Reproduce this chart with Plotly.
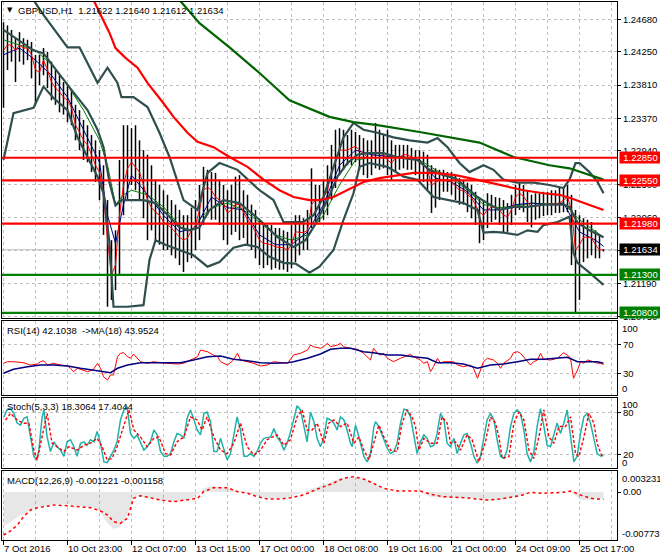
import plotly.graph_objects as go

FONT = "Liberation Sans, Arial, sans-serif"

# ---------------- DATA ----------------
# H1 bars, sampled every 2 hours; x = bar number since 7 Oct 2016
bar_index = list(range(0, 301, 2))
bar_high = [1.2464,1.2460,1.2454,1.2443,1.2451,1.2443,1.2441,1.2438,1.2421,1.2421,
            1.2430,1.2425,1.2412,1.2401,1.2394,1.2385,1.2381,1.2375,1.2355,1.2348,
            1.2335,1.2328,1.2315,1.2308,1.2295,1.2275,1.2229,1.2176,1.2189,1.2282,
            1.2328,1.2328,1.2324,1.2328,1.2308,1.2295,1.2289,1.2275,1.2256,1.2249,
            1.2242,1.2236,1.2229,1.2223,1.2216,1.2209,1.2209,1.2219,1.2229,1.2249,
            1.2273,1.2269,1.2266,1.2265,1.2256,1.2249,1.2242,1.2249,1.2260,1.2262,
            1.2242,1.2236,1.2223,1.2216,1.2203,1.2196,1.2196,1.2196,1.2192,1.2192,
            1.2189,1.2187,1.2196,1.2209,1.2209,1.2205,1.2216,1.2271,1.2249,1.2249,
            1.2256,1.2275,1.2302,1.2322,1.2324,1.2322,1.2315,1.2322,1.2319,1.2315,
            1.2311,1.2308,1.2308,1.2331,1.2322,1.2315,1.2322,1.2308,1.2302,1.2302,
            1.2302,1.2302,1.2298,1.2295,1.2295,1.2293,1.2289,1.2275,1.2271,1.2269,
            1.2269,1.2266,1.2266,1.2262,1.2258,1.2256,1.2252,1.2249,1.2240,1.2232,
            1.2229,1.2238,1.2236,1.2233,1.2232,1.2229,1.2225,1.2236,1.2249,1.2252,
            1.2249,1.2242,1.2236,1.2238,1.2238,1.2240,1.2240,1.2242,1.2242,1.2245,
            1.2246,1.2249,1.2236,1.2216,1.2209,1.2205,1.2203,1.2200,1.2189,1.2183,
            1.2164]
bar_low = [1.2351,1.2401,1.2412,1.2385,1.2412,1.2408,1.2414,1.2390,1.2355,1.2381,
           1.2394,1.2377,1.2361,1.2355,1.2345,1.2342,1.2332,1.2328,1.2308,1.2295,
           1.2282,1.2279,1.2266,1.2253,1.2229,1.2183,1.2088,1.2097,1.2110,1.2130,
           1.2209,1.2229,1.2249,1.2242,1.2229,1.2205,1.2176,1.2189,1.2176,1.2170,
           1.2163,1.2163,1.2156,1.2152,1.2143,1.2134,1.2147,1.2152,1.2163,1.2176,
           1.2196,1.2209,1.2203,1.2203,1.2196,1.2176,1.2170,1.2183,1.2187,1.2176,
           1.2179,1.2170,1.2163,1.2152,1.2143,1.2139,1.2143,1.2137,1.2139,1.2137,
           1.2137,1.2134,1.2139,1.2147,1.2156,1.2163,1.2163,1.2192,1.2196,1.2200,
           1.2203,1.2209,1.2229,1.2245,1.2262,1.2269,1.2275,1.2275,1.2279,1.2269,
           1.2262,1.2258,1.2262,1.2271,1.2269,1.2271,1.2262,1.2256,1.2266,1.2269,
           1.2271,1.2269,1.2269,1.2262,1.2256,1.2253,1.2242,1.2212,1.2219,1.2229,
           1.2240,1.2240,1.2236,1.2229,1.2223,1.2223,1.2213,1.2205,1.2196,1.2172,
           1.2176,1.2192,1.2200,1.2203,1.2196,1.2186,1.2187,1.2196,1.2209,1.2216,
           1.2213,1.2200,1.2193,1.2203,1.2205,1.2208,1.2209,1.2209,1.2212,1.2212,
           1.2213,1.2213,1.2143,1.2081,1.2097,1.2147,1.2152,1.2156,1.2152,1.2152,
           1.2161]
bar_close = [1.2427,1.2434,1.2434,1.2427,1.2434,1.2430,1.2430,1.2421,1.2401,1.2398,
             1.2414,1.2401,1.2385,1.2377,1.2372,1.2365,1.2361,1.2351,1.2328,1.2319,
             1.2308,1.2302,1.2289,1.2275,1.2266,1.2236,1.2176,1.2130,1.2143,1.2209,
             1.2249,1.2271,1.2279,1.2273,1.2266,1.2249,1.2229,1.2219,1.2213,1.2209,
             1.2200,1.2196,1.2192,1.2186,1.2180,1.2176,1.2179,1.2189,1.2196,1.2216,
             1.2242,1.2246,1.2242,1.2233,1.2229,1.2223,1.2212,1.2216,1.2223,1.2223,
             1.2213,1.2203,1.2196,1.2187,1.2176,1.2172,1.2171,1.2170,1.2167,1.2166,
             1.2166,1.2163,1.2170,1.2187,1.2186,1.2186,1.2189,1.2223,1.2229,1.2229,
             1.2232,1.2242,1.2266,1.2282,1.2295,1.2295,1.2295,1.2298,1.2300,1.2295,
             1.2291,1.2285,1.2285,1.2293,1.2291,1.2289,1.2282,1.2278,1.2285,1.2286,
             1.2289,1.2289,1.2286,1.2282,1.2279,1.2275,1.2269,1.2249,1.2252,1.2256,
             1.2256,1.2256,1.2253,1.2248,1.2242,1.2242,1.2236,1.2232,1.2223,1.2213,
             1.2209,1.2216,1.2220,1.2219,1.2216,1.2209,1.2207,1.2216,1.2233,1.2238,
             1.2234,1.2226,1.2220,1.2221,1.2223,1.2223,1.2223,1.2223,1.2224,1.2225,
             1.2229,1.2233,1.2216,1.2163,1.2170,1.2180,1.2180,1.2179,1.2170,1.2163,
             1.21634]

# fast moving averages (thin blue / thin green)
fast_ma_x = [0,8,16,24,32,40,48,52,56,60,64,72,80,88,96,104,112,120,128,136,144,152,
             160,168,176,184,192,200,208,216,224,232,240,248,256,264,272,280,288,296,300]
blue_ma = [1.2421,1.2430,1.2414,1.2394,1.2365,1.2322,1.2279,1.2209,1.2172,1.2223,1.2262,
           1.2236,1.2209,1.2187,1.2192,1.2233,1.2219,1.2216,1.2183,1.2170,1.2170,1.2187,
           1.2223,1.2275,1.2295,1.2289,1.2287,1.2286,1.2282,1.2258,1.2253,1.2240,1.2216,
           1.2216,1.2223,1.2225,1.2223,1.2225,1.2187,1.2176,1.2168]
green_ma = [1.2441,1.2434,1.2427,1.2408,1.2381,1.2348,1.2308,1.2275,1.2223,1.2236,1.2242,
            1.2236,1.2220,1.2196,1.2199,1.2219,1.2225,1.2216,1.2200,1.2183,1.2176,1.2183,
            1.2209,1.2249,1.2282,1.2285,1.2286,1.2286,1.2282,1.2269,1.2258,1.2242,1.2223,
            1.2219,1.2221,1.2225,1.2224,1.2225,1.2203,1.2187,1.2180]

# Bollinger bands
bb_up_x = [15,20,32,38,47,52,57,59,65,72,78,83,90,97,102,108,117,128,135,140,150,155,160,
           165,170,175,180,187,195,203,212,217,222,226,228,233,240,245,250,257,265,273,280,
           283,286,288,293,297,300]
bb_up = [1.24935,1.2474,1.2431,1.2431,1.2384,1.2404,1.2384,1.2365,1.2365,1.2352,1.2318,
         1.2286,1.2229,1.2216,1.2265,1.2278,1.2269,1.2242,1.2229,1.2200,1.2200,1.2209,1.2233,
         1.2273,1.2312,1.2331,1.2322,1.2318,1.2312,1.2308,1.2305,1.2311,1.2299,1.2285,1.2278,
         1.2266,1.2275,1.2269,1.2256,1.2252,1.2252,1.2249,1.2245,1.2256,1.2278,1.2278,1.2266,
         1.2253,1.2238]
bb_mid_x = [0,15,20,27,33,42,47,50,53,56,59,70,76,83,88,93,98,103,110,118,128,137,145,151,
            155,162,167,172,177,182,190,198,207,213,220,226,232,237,242,248,255,262,270,280,
            283,287,293,300]
bb_mid = [1.2454,1.2427,1.2423,1.2398,1.2378,1.2348,1.2322,1.2299,1.2252,1.2222,1.2229,
          1.2229,1.2225,1.2207,1.2193,1.2189,1.2193,1.2216,1.2229,1.2225,1.2203,1.2180,1.2167,
          1.2176,1.2193,1.2229,1.2260,1.2278,1.2289,1.2291,1.2291,1.2285,1.2282,1.2269,1.2262,
          1.2258,1.2245,1.2233,1.2225,1.2216,1.2220,1.2220,1.2223,1.2223,1.2220,1.2199,1.2189,
          1.2180]
bb_lo_x = [0,5,15,20,25,32,37,43,47,50,53,55,62,70,73,76,81,88,95,102,108,115,121,127,133,
           140,146,153,158,165,170,175,178,183,192,200,207,215,222,230,237,240,245,250,257,
           262,267,270,277,283,285,287,293,300]
bb_lo = [1.2282,1.2344,1.2351,1.2379,1.2364,1.2348,1.2312,1.2282,1.2260,1.2238,1.2172,
         1.2088,1.2088,1.2090,1.2150,1.2176,1.2170,1.2163,1.2156,1.2141,1.2147,1.2166,1.2170,
         1.2167,1.2154,1.2146,1.2145,1.2133,1.2141,1.2163,1.2203,1.2238,1.2273,1.2278,1.2273,
         1.2260,1.2256,1.2233,1.2229,1.2225,1.2216,1.2186,1.2187,1.2186,1.2183,1.2189,1.2187,
         1.2196,1.2200,1.2207,1.2159,1.2146,1.2133,1.2117]

# slow moving averages (thick red / thick green)
ma100_x = [45,53,56,61,67,72,80,85,92,97,105,113,122,130,138,145,153,158,165,172,180,188,
           197,205,215,226,233,243,252,260,270,278,283,290,300]
ma100 = [1.24935,1.2450,1.2430,1.2417,1.2404,1.2384,1.2357,1.2339,1.2318,1.2306,1.2299,
         1.2286,1.2273,1.2256,1.2242,1.2233,1.2229,1.2229,1.2233,1.2242,1.2253,1.2258,1.2262,
         1.2265,1.2265,1.2262,1.2258,1.2252,1.2246,1.2242,1.2238,1.2236,1.2232,1.2225,1.2216]
ma200_x = [88,98,113,128,143,163,175,187,208,223,238,255,273,283,293,300]
ma200 = [1.24935,1.2463,1.2431,1.2397,1.2361,1.2339,1.2332,1.2328,1.2319,1.2312,1.2305,
         1.2286,1.2275,1.2271,1.2262,1.2256]

# horizontal levels
red_levels = [1.2285, 1.2255, 1.2198]
green_levels = [1.2130, 1.2080]
last_price = 1.21634
price_ticks = [1.2468, 1.2425, 1.2381, 1.2337, 1.2294, 1.2250, 1.2206, 1.2162, 1.2119, 1.2075]

# RSI(14) and its MA(18)
rsi_x = [0,2,5,10,13.5,17,18.5,20,22,25,28.5,32,33.5,35,37,40,42,45,47,48.5,
         50,52,53.5,55,57,58.5,60,62,63.5,65,67,68.5,72,75,78.5,82,87,90,93.5,97,
         98.5,102,105,107,108.5,112,115,117,118.5,122,125,128.5,132,135,138.5,142,145,148.5,152,153.5,
         155,158.5,160,162,163.5,167,168.5,170,173.5,177,180,182.5,183.5,185,187,188.5,190,192,195,198.5,
         202,203.5,205,208.5,210,212,213.5,215,217,218.5,220,225,227,230,233.5,235,237,238.5,240,242,
         245,247,248.5,250,253.5,255,257,258.5,260,262,263.5,265,267,268.5,270,273.5,277,280,282,283.5,
         285,287,288.5,290,292,295,297,298.5,300]
rsi = [43.8,46,46,44.6,41.4,42.8,46,47.4,41.4,43.8,41.4,40.1,36.9,32.2,36.9,34.6,32.2,35.5,43.8,36.9,
       25.3,20.8,27.7,27.7,52.9,57.6,58.4,52.9,50.7,56.6,50.7,46,43.8,46,44.6,43.8,42.8,43.8,48.3,52.9,
       62.1,59.8,55.2,52.9,46,41.4,48.3,57.6,48.3,46,43.8,40.1,41.4,46,44.6,43.8,55.2,57.6,62.1,69,
       66.7,64.5,66.7,71.4,66.7,69,71.4,66.7,64.5,63.1,57.6,50.7,48.3,64.5,57.6,55.2,57.6,50.7,46,50.7,
       53.9,56.2,52.9,48.3,43.8,46,32.2,39.1,50.7,43.8,46,46,41.4,39.1,41.4,36.9,23.1,34.6,46,50.7,
       48.3,43.8,36.9,43.8,50.7,58.4,59.8,57.6,52.9,46,41.4,46,48.3,57.6,49.3,48.3,50.7,58.4,55.2,50.7,
       23.1,34.6,46,43.8,48.3,46,43.8,43.8,42.1]
rsi_ma_x = [0,5,12,18.5,25,32,38.5,45,50,53.5,57,62,68.5,78.5,88.5,95,102,108.5,115,122,
            128.5,135,142,145,152,158.5,163.5,168.5,173.5,180,185,192,198.5,205,212,217,223.5,230,237,243.5,
            250,257,263.5,270,277,282,287,292,297,300]
rsi_ma = [30,35.5,39.1,41.4,41.4,40.1,36.9,34.6,32.2,30.8,36.9,41.4,44.6,44.6,44.6,48.3,52.9,53.9,49.3,47.4,
          44.6,43.8,44.6,46,50.7,56.6,63.1,64.5,64.5,59.8,58.4,55.2,55.2,52.9,50.7,44.6,44.6,42.8,36.9,41.4,
          42.8,46,49.3,49.3,50.7,52.1,46,46,46,43.95]

# Stochastic(5,3,3)
stoch_k_x = [0.2,1.8,3.5,5.2,6.8,8.5,10.2,11.8,13.5,15.2,16.5,17.7,19.3,20.2,21.8,23.5,25.2,26.8,28.5,30.2,
             31.8,33.5,35.2,36.8,38.5,40.2,41.8,43.5,45.2,46.8,48.5,50.2,51.8,53.5,55.2,56.8,58.5,60.2,61.8,63.5,
             65.2,66.8,68.5,70.2,71.8,73.5,75.2,76.8,78.5,80.2,81.8,83.5,85.2,86.8,88.5,90.2,91.8,93.5,95.2,96.8,
             98.5,100.2,101.8,103.5,105.2,106.8,108.5,110.2,111.8,113.5,115.2,116.8,118.5,120.2,121.8,123.5,125.2,126.8,128.5,130.2,
             133.5,135.2,136.8,138.5,140.2,141.8,143.5,145.2,146.8,148.5,150.2,151.8,153.5,155.2,156.8,158.5,160.2,161.8,
             163.5,165.2,166.8,168.5,170.2,171.8,173.5,174.3,176,176.8,178.5,180.2,181.8,183.5,185.2,186,187.7,189.3,191.8,193.5,
             195.2,196.8,198.5,200.2,201.8,203.5,205.2,206.8,208.5,210.2,211.8,213.5,215.2,216.8,218.5,220.2,221.8,223.5,225.2,226.8,
             228.5,230.2,231.8,233.5,235.2,236.8,238.5,240.2,241.8,243.5,245.2,246.8,248.5,250.2,251.8,253.5,255.2,256.8,258.5,260.2,
             261.8,263.5,265.2,266.8,268.5,270.2,271.8,273.5,275.2,276.8,278.5,280.2,281.8,283.5,285.2,286.8,288.5,290.2,291.8,293.5,
             295.2,296.8,298.5,300]
stoch_k = [74,84,86,79,65,62,72,74,45,17,12,26,74,84,45,24,38,31,26,17,
           38,41,31,17,36,38,33,41,38,53,36,9,8,17,26,38,70,84,89,50,
           43,48,38,26,31,38,55,48,24,17,17,21,38,50,48,43,72,84,70,55,
           48,79,81,67,24,24,43,26,12,21,50,74,55,17,17,21,17,24,36,43,
           45,57,45,38,26,36,52,74,90,84,60,38,81,67,43,31,45,72,
           69.5,64.7,55,74,69.5,55,36,31,62,55,36,17,9,21,60,67,60,48,29,21,
           24,36,65,85,84,74,45,21,38,48,43,31,33,50,79,69.5,36,31,43,21,
           36,48,50,36,17,7,17,45,69.5,79,69.5,41,17,14,26,60,79,84,79,55,
           21,9,24,60,86,60,33,31,50,65,50,65,84,50,9,17,50,74,79,65,
           41,21,17.5,18.3]
stoch_d_x = [1,3.5,6.8,10.2,12.7,15.2,16.8,20.2,21.8,24.3,26.8,30.2,32.7,36.8,40.2,43.5,46.8,49.3,51.8,54.3,
             56.8,59.3,62.7,65.2,68.5,71.8,75.2,77.7,81,83.5,86.8,90.2,93.5,96.8,99.3,101.8,105.2,108.5,111.8,115.2,
             118.5,121.8,125.2,128.5,131.8,136.8,140.2,143.5,146.8,149.3,151.8,154.3,156.8,160.2,162.7,
             165.2,168.5,171.8,175.2,177.7,180.2,182.7,185.2,187.7,190.2,193.5,196.8,199.3,201.8,204.3,206,207.7,210.2,213.5,216.8,
             219.3,221.8,223.5,226,228.5,231.8,234.3,237.7,241,243.5,246,247.7,249.3,252.7,255.2,257.7,260.2,262.7,265.2,267.7,
             270.2,272.7,275.2,277.7,281,283.5,286,287.7,290.2,292.7,295.2,296.8,299.3,300]
stoch_d = [69.5,79,69.5,64.7,64.7,26,11.7,55,79,36,31,24,31,26,33,36,43,31,12,14,
           31,55,84,55,45,31,43,45,21,19,38,45,74,69.5,55,74,45,26,21,36,
           65,31,19,26,41,48,33,41,74,84,55,55,65,36,65,
           69.5,60,65,36,45,26,12,36,62,45,26,24,65,84,74,60,26,43,36,36,
           74,65,36,38,26,48,41,9,38,74,65,45,14,16.5,65,81,69.5,26,14,45,
           84,45,36,60,60,74,21,16.5,45,79,65,36,16.5,17.4]

# MACD(12,26,9)
macd_x = [0,3.5,8.5,13.5,18.5,25,32,38.5,45,48.5,52,55,58.5,62,64.5,67,72,78.5,85,92,
          97,100,105,112,118.5,125,132,138.5,145,152,157,163.5,168.5,173.5,178.5,183.5,188.5,192,197,208.5,
          213.5,220,230,237,240,247,252,257,260,263.5,272,280,285,288.5,293.5,298.5,300]
macd_main = [-0.00560,-0.00479,-0.00371,-0.00290,-0.00237,-0.00198,-0.00198,-0.00221,-0.00253,-0.00318,
             -0.00505,-0.00597,-0.00560,-0.00371,-0.00129,-0.00060,-0.00102,-0.00129,-0.00156,-0.00129,
             -0.00048,0.00060,0.00097,0.00069,0.00005,-0.00048,-0.00102,-0.00102,-0.00060,0.00032,
             0.00085,0.00156,0.00221,0.00247,0.00221,0.00166,0.00085,0.00016,-0.00005,-0.00005,
             -0.00076,-0.00092,-0.00092,-0.00102,-0.00145,-0.00129,-0.00102,-0.00076,-0.00037,-0.00005,
             -0.00005,0.00005,-0.00021,-0.00129,-0.00129,-0.00102,-0.001221]
signal_x = [0,3.5,7,10,13.5,17,20,25,32,38.5,43.5,48.5,52,55,58.5,62,65,68.5,73.5,78.5,
            85,92,97,100,105,112,117,122,127,132,138.5,143.5,148.5,152,157,163.5,170,175,180,185,
            190,197,208.5,213.5,220,230,237,242,247,253.5,258.5,263.5,270,280,283.5,288.5,293.5,297,300]
macd_signal = [-0.00694,-0.00629,-0.00532,-0.00398,-0.00290,-0.00253,-0.00237,-0.00210,-0.00221,-0.00237,
               -0.00253,-0.00306,-0.00371,-0.00479,-0.00505,-0.00424,-0.00102,-0.00060,-0.00092,-0.00129,
               -0.00156,-0.00129,-0.00102,0.00005,0.00069,0.00069,0.00005,-0.00021,-0.00076,-0.00113,
               -0.00113,-0.00092,-0.00060,-0.00021,0.00048,0.00124,0.00221,0.00247,0.00210,0.00140,
               0.00060,0.00016,0.00016,-0.00037,-0.00076,-0.00092,-0.00113,-0.00129,-0.00118,-0.00092,
               -0.00060,-0.00005,-0.00021,-0.00005,0.00016,-0.00048,-0.00102,-0.00113,-0.001158]

time_label_pos = [0, 32, 64, 96, 128, 160, 192, 224, 256, 288]
time_labels = ["7 Oct 2016", "10 Oct 23:00", "12 Oct 07:00", "13 Oct 15:00", "17 Oct 00:00",
               "18 Oct 08:00", "19 Oct 16:00", "21 Oct 00:00", "24 Oct 09:00", "25 Oct 17:00"]

# ---------------- FIGURE ----------------
W, H = 660, 560
ML, MR, MT, MB = 2, 43, 2, 20


def px_x(px):
    return (px - ML) / (W - ML - MR)


def px_y(py):
    return (H - MB - py) / (H - MT - MB)


fig = go.Figure()


def line(x, y, color, width, xa='x', ya='y', dash=None):
    fig.add_trace(go.Scatter(x=x, y=y, mode='lines', xaxis=xa, yaxis=ya, hoverinfo='skip',
                             line=dict(color=color, width=width, dash=dash)))


# price bars (high-low)
bx, by = [], []
for i, h, l in zip(bar_index, bar_high, bar_low):
    bx += [i, i, None]
    by += [l, h, None]
line(bx, by, 'black', 1.5)

line(fast_ma_x, green_ma, '#008000', 1)
line(fast_ma_x, blue_ma, '#000080', 1)
line(bar_index, bar_close, '#ff0000', 1)

for bx_, by_ in [(bb_up_x, bb_up), (bb_mid_x, bb_mid), (bb_lo_x, bb_lo)]:
    line(bx_, by_, '#2f4f4f', 2.2)
line(ma100_x, ma100, '#ff0000', 2.2)
line(ma200_x, ma200, '#006400', 2.2)

# RSI
line(rsi_x, rsi, '#ff0000', 1, 'x2', 'y2')
line(rsi_ma_x, rsi_ma, '#000080', 1.5, 'x2', 'y2')

# Stochastic
line(stoch_k_x, stoch_k, '#20b2aa', 1.5, 'x3', 'y3')
line(stoch_d_x, stoch_d, '#ff0000', 1.4, 'x3', 'y3', dash='3px,2px')

# MACD
fig.add_trace(go.Scatter(x=macd_x, y=macd_main, mode='lines', fill='tozeroy', xaxis='x4', yaxis='y4',
                         hoverinfo='skip', line=dict(width=0, color='#c0c0c0'),
                         fillcolor='rgba(0,0,0,0)',
                         fillpattern=dict(shape='|', fgcolor='#a0a0a0', bgcolor='rgba(0,0,0,0)',
                                          size=2, solidity=0.5)))
line(signal_x, macd_signal, '#ff0000', 1.5, 'x4', 'y4', dash='3px,3px')

# horizontal levels
shapes = [dict(type='line', xref='x domain', yref='y', x0=0, x1=1, y0=last_price, y1=last_price,
               line=dict(color='#c0c0c0', width=1), layer='below')]
for lv in red_levels:
    shapes.append(dict(type='line', xref='x domain', yref='y', x0=0, x1=1, y0=lv, y1=lv,
                       line=dict(color='#ff0000', width=2.2), layer='above'))
for lv in green_levels:
    shapes.append(dict(type='line', xref='x domain', yref='y', x0=0, x1=1, y0=lv, y1=lv,
                       line=dict(color='#008000', width=2.2), layer='above'))

# ---------- axes ----------
GRID = dict(showgrid=True, gridcolor='#c0c0c0', griddash='3px,3px', gridwidth=1)
FRAME = dict(showline=True, mirror=True, linecolor='black', linewidth=1, zeroline=False, automargin=False)
TICKF = dict(family=FONT, size=9.5, color='black')
XR = [-0.75, 306.75]

xbase = dict(range=XR, tickmode='linear', tick0=0, dtick=16, showticklabels=False, ticks='', **GRID, **FRAME)

d_main = [px_y(318), 1]
d_rsi = [px_y(395), px_y(321)]
d_sto = [px_y(468), px_y(397.5)]
d_macd = [0, px_y(471)]

ybase = dict(side='right', ticks='outside', ticklen=3, tickcolor='black', tickfont=TICKF, **FRAME)

fig.update_layout(
    width=W, height=H,
    margin=dict(l=ML, r=MR, t=MT, b=MB, pad=0),
    paper_bgcolor='white', plot_bgcolor='white',
    showlegend=False, hovermode=False,
    xaxis=dict(domain=[0, 1], anchor='y', **xbase),
    xaxis2=dict(domain=[0, 1], anchor='y2', matches='x', **xbase),
    xaxis3=dict(domain=[0, 1], anchor='y3', matches='x', **xbase),
    xaxis4=dict(domain=[0, 1], anchor='y4', matches='x', range=XR, tickmode='linear', tick0=0, dtick=32,
                ticks='outside', ticklen=4, tickcolor='black', showticklabels=False, **GRID, **FRAME,
                minor=dict(tick0=0, dtick=16, showgrid=True, gridcolor='#c0c0c0', griddash='3px,3px', ticks='')),
    yaxis=dict(domain=d_main, anchor='x', range=[1.20731, 1.24909], tickvals=price_ticks,
               ticktext=['%.5f' % v for v in price_ticks], **GRID, **ybase),
    yaxis2=dict(domain=d_rsi, anchor='x2', range=[0.07, 102.14], tickvals=[70, 30],
                ticktext=['70', '30'], **GRID, **ybase),
    yaxis3=dict(domain=d_sto, anchor='x3', range=[0.2, 101.93], tickvals=[80, 20],
                ticktext=['80', '20'], **GRID, **ybase),
    yaxis4=dict(domain=d_macd, anchor='x4', range=[-0.007743, 0.003388], tickvals=[0],
                ticktext=['0.00'], showgrid=False, **ybase),
    shapes=shapes,
)

# ---------- annotations ----------
ann = []


def text(x, y, s, size=9.5, color='black', xanchor='left', family=FONT, **kw):
    d = dict(x=x, y=y, xref=kw.pop('xref', 'paper'), yref=kw.pop('yref', 'paper'), text=s, showarrow=False,
             xanchor=xanchor, yanchor='middle', font=dict(family=family, size=size, color=color), borderpad=0)
    d.update(kw)
    ann.append(d)


text(px_x(6), px_y(10), '\u25bc', size=7, family='DejaVu Sans')
text(px_x(17), px_y(10.5), 'GBPUSD,H1\u00a0\u00a01.21622 1.21640 1.21612 1.21634')
text(px_x(6), px_y(330.5), 'RSI(14) 42.1038\u00a0\u00a0->MA(18) 43.9524')
text(px_x(6), px_y(406.5), 'Stoch(5,3,3) 18.3064 17.4044')
text(px_x(6), px_y(480.5), 'MACD(12,26,9) -0.001221 -0.001158')

# extra scale labels of the sub-windows
for s, py in [('100', 328.3), ('0', 388.3), ('100', 404.3), ('0', 462.3), ('0.003231', 478.3), ('-0.007739', 533.3)]:
    text(px_x(621), px_y(py), s)

# time labels
for pos, lab in zip(time_label_pos, time_labels):
    text(pos, px_y(548.5), lab, xref='x4', xshift=-1)

# coloured price tags
for lv, bg in [(1.2285, '#ff0000'), (1.2255, '#ff0000'), (1.2198, '#ff0000'),
               (last_price, '#000000'), (1.2130, '#008000'), (1.2080, '#008000')]:
    ann.append(dict(x=px_x(619), y=lv, xref='paper', yref='y', text='%.5f' % lv, showarrow=False,
                    xanchor='left', yanchor='middle', width=41, height=11, align='center',
                    bgcolor=bg, borderpad=0, font=dict(family=FONT, size=9.5, color='white')))

fig.update_layout(annotations=ann)

fig.write_html("out.html", config={"displayModeBar": False, "staticPlot": True},
               post_script="document.body.style.margin='0';document.body.style.overflow='hidden';")
